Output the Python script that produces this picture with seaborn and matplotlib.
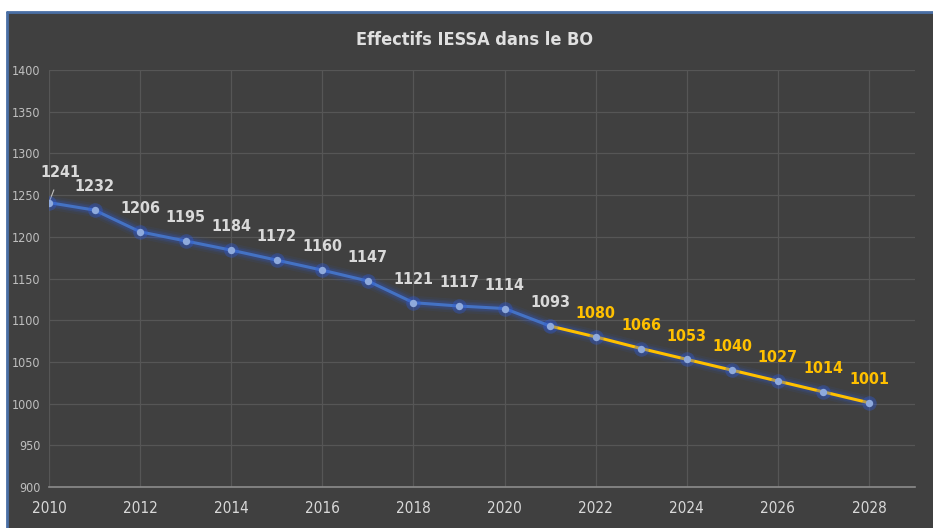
import matplotlib
matplotlib.use("Agg")
import matplotlib.pyplot as plt
import matplotlib.patches as mpatches
import seaborn as sns
import pandas as pd

years_hist = [2010, 2011, 2012, 2013, 2014, 2015, 2016, 2017, 2018, 2019, 2020, 2021]
values_hist = [1241, 1232, 1206, 1195, 1184, 1172, 1160, 1147, 1121, 1117, 1114, 1093]
years_proj = [2021, 2022, 2023, 2024, 2025, 2026, 2027, 2028]
values_proj = [1093, 1080, 1066, 1053, 1040, 1027, 1014, 1001]
x_ticks = [2010, 2012, 2014, 2016, 2018, 2020, 2022, 2024, 2026, 2028]
y_ticks = [900, 950, 1000, 1050, 1100, 1150, 1200, 1250, 1300, 1350, 1400]
title = "Effectifs IESSA dans le BO"

hist = pd.DataFrame({"year": years_hist, "value": values_hist})
proj = pd.DataFrame({"year": years_proj, "value": values_proj})

sns.set_style("dark")
plt.rcParams['font.family'] = ['Liberation Sans Narrow', 'DejaVu Sans']
plt.rcParams['font.stretch'] = 'condensed'

BG = "#404040"
fig = plt.figure(figsize=(9.33, 5.28), dpi=100)
fig.patch.set_facecolor("white")
# dark chart area with thin blue border on top/left
fig.patches.append(mpatches.Rectangle((7 / 933, 0), 1, 1 - 12 / 528, transform=fig.transFigure,
                                      facecolor=BG, edgecolor="none", zorder=-10))
fig.lines.append(plt.Line2D([7 / 933, 7 / 933], [0, 1 - 12 / 528], transform=fig.transFigure,
                            color="#4A6FA5", lw=2, zorder=-9))
fig.lines.append(plt.Line2D([7 / 933, 1], [1 - 12 / 528, 1 - 12 / 528], transform=fig.transFigure,
                            color="#4A6FA5", lw=2, zorder=-9))

ax = fig.add_axes([49 / 933, 1 - 487 / 528, (914.6 - 49) / 933, (487 - 70) / 528])
ax.set_facecolor(BG)

# glow
for lw, a in [(10, 0.08), (7, 0.12), (5, 0.18)]:
    ax.plot(years_hist, values_hist, color="#2F5BD8", lw=lw, alpha=a, solid_capstyle="round", zorder=2)
    ax.plot(years_proj, values_proj, color="#2F5BD8", lw=lw, alpha=a, solid_capstyle="round", zorder=2)

sns.lineplot(data=hist, x="year", y="value", ax=ax, color="#4472C4", lw=2.2, zorder=3)
sns.lineplot(data=proj, x="year", y="value", ax=ax, color="#FFC000", lw=2.2, zorder=3)
all_years = years_hist + years_proj[1:]
all_vals = values_hist + values_proj[1:]
ax.scatter(all_years, all_vals, s=110, color="#2F5BD8", alpha=0.35, zorder=4, linewidths=0)
ax.scatter(all_years, all_vals, s=28, color="#8FAADC", zorder=5, linewidths=0)

for i, (x, y) in enumerate(zip(years_hist, values_hist)):
    if i == 0:
        ax.annotate(str(y), xy=(x, y), xytext=(x + 0.25, y + 36), ha="center", va="center",
                    color="#D9D9D9", fontsize=11.5, fontweight="bold",
                    arrowprops=dict(arrowstyle="-", color="#BFBFBF", lw=0.8, shrinkA=5, shrinkB=2))
    else:
        ax.text(x, y + 28, str(y), ha="center", va="center", color="#D9D9D9",
                fontsize=11.5, fontweight="bold")
for x, y in zip(years_proj[1:], values_proj[1:]):
    ax.text(x, y + 28, str(y), ha="center", va="center", color="#FFC000",
            fontsize=11.5, fontweight="bold")

ax.set_xlim(2010, 2029)
ax.set_ylim(900, 1400)
ax.set_xticks(x_ticks)
ax.set_yticks(y_ticks)
ax.set_xticklabels([str(t) for t in x_ticks], color="#D9D9D9", fontsize=11)
ax.set_yticklabels([str(t) for t in y_ticks], color="#BFBFBF", fontsize=9)
ax.tick_params(length=0)
ax.tick_params(axis="x", pad=10)
ax.tick_params(axis="y", pad=6)
ax.grid(True, color="#565656", lw=0.9)
ax.set_xlabel("")
ax.set_ylabel("")
for s in ["top", "right", "left"]:
    ax.spines[s].set_visible(False)
ax.spines["bottom"].set_color("#8C8C8C")
ax.spines["bottom"].set_linewidth(1.2)

fig.text(475 / 933, 1 - 40 / 528, title, ha="center", va="center", color="#E0E0E0",
         fontsize=13, fontweight="bold")

fig.savefig("out.png", dpi=100)
